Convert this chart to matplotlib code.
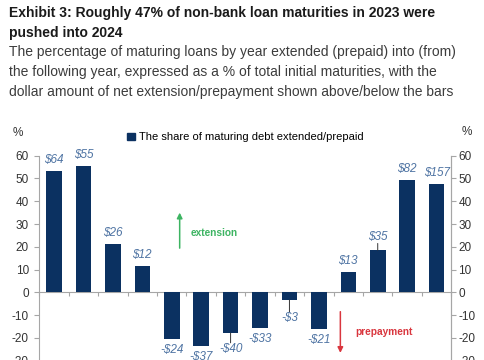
import numpy as np
import matplotlib
matplotlib.use("Agg")
import matplotlib.pyplot as plt
from matplotlib.patches import Patch

# bar values (% of initial maturities) and the $ labels shown above/below
share = [53.5, 55.3, 21.2, 11.4, -20.6, -23.5, -17.9, -15.8, -3.4, -16.2, 8.9, 18.5, 49.5, 47.5]
dollars = ["$64", "$55", "$26", "$12", "-$24", "-$37", "-$40", "-$33", "-$3", "-$21",
           "$13", "$35", "$82", "$157"]
yticks = [-30, -20, -10, 0, 10, 20, 30, 40, 50, 60]

navy = "#0b3161"
lab_blue = "#4f74a3"
green = "#3db462"
red = "#d9363e"
grey = "#a6a6a6"

plt.rcParams['font.family'] = ["Liberation Sans", "DejaVu Sans"]
plt.rcParams['axes.unicode_minus'] = False

fig = plt.figure(figsize=(4.85, 3.6), dpi=100)

# title and subtitle
fig.text(9/485, 1 - 13/360, "Exhibit 3: Roughly 47% of non-bank loan maturities in 2023 were",
         fontsize=10, fontweight='bold', color="#1a1a1a", va='center')
fig.text(9/485, 1 - 33/360, "pushed into 2024",
         fontsize=10, fontweight='bold', color="#1a1a1a", va='center')
sub = ["The percentage of maturing loans by year extended (prepaid) into (from)",
       "the following year, expressed as a % of total initial maturities, with the",
       "dollar amount of net extension/prepayment shown above/below the bars"]
for i, s in enumerate(sub):
    fig.text(9/485, 1 - (52 + 20*i)/360, s, fontsize=10, color="#3c3c3c", va='center')

# axes (bottom runs off the picture like the reference crop)
ax = fig.add_axes([39.3/485, -0.065, 412/485, 0.6325])
x = np.arange(len(share))
ax.bar(x, share, width=0.53, color=navy, zorder=3,
       label="The share of maturing debt extended/prepaid")
ax.set_xlim(-0.5, len(share) - 0.5)
ax.set_ylim(-40, 60)

# zero line with category ticks
ax.spines['top'].set_visible(False)
ax.spines['bottom'].set_position(('data', 0))
for sp in ['bottom', 'left', 'right']:
    ax.spines[sp].set_color(grey)
ax.set_xticks(np.arange(-0.5, len(share) + 0.5, 1.0))
ax.set_xticklabels([])
ax.tick_params(axis='x', direction='out', length=3, color=grey)

ax.set_yticks(yticks)
ax.tick_params(axis='y', direction='out', length=3.5, color=grey, labelsize=8.5,
               labelcolor="#333333", pad=4)
ax2 = ax.twinx()
ax2.set_ylim(ax.get_ylim())
ax2.set_yticks(yticks)
for sp in ['top', 'bottom', 'left']:
    ax2.spines[sp].set_visible(False)
ax2.spines['right'].set_color(grey)
ax2.tick_params(axis='y', direction='out', length=3.5, color=grey, labelsize=8.5,
                labelcolor="#333333", pad=1.5)

# dollar labels
special = {"-$40": 16, "-$3": 18, "$35": 13}
for xi, v, d in zip(x, share, dollars):
    off = special.get(d, 11) * 72 / 100
    sign = 1 if v > 0 else -1
    ax.annotate(d, (xi, v), xytext=(0, sign*off), textcoords='offset points',
                ha='center', va='center', fontsize=8.5, style='italic',
                color=lab_blue, zorder=4)
    if d in special:
        ax.annotate("", (xi, v), xytext=(0, sign*(off - 4.5)), textcoords='offset points',
                    arrowprops=dict(arrowstyle='-', color="#333333", lw=0.7,
                                    shrinkA=0, shrinkB=0))

# extension / prepayment arrows
ax.annotate("", xy=(4.27, 35), xytext=(4.27, 19.4),
            arrowprops=dict(arrowstyle='-|>', color=green, lw=1.1, mutation_scale=8,
                            shrinkA=0, shrinkB=0))
ax.text(4.64, 25.9, "extension", color=green, fontsize=7.3, fontweight='bold', va='center')
ax.annotate("", xy=(9.73, -26.6), xytext=(9.73, -8.5),
            arrowprops=dict(arrowstyle='-|>', color=red, lw=1.1, mutation_scale=8,
                            shrinkA=0, shrinkB=0))
ax.text(10.23, -17.3, "prepayment", color=red, fontsize=7.3, fontweight='bold', va='center')

# % units and legend
fig.text(18/485, 1 - 133/360, "%", fontsize=8.5, ha='center', va='center', color="#333333")
fig.text(467/485, 1 - 132/360, "%", fontsize=8.5, ha='center', va='center', color="#333333")
ax.legend(handles=[Patch(color=navy, label="The share of maturing debt extended/prepaid")],
          loc='center left', bbox_to_anchor=(127/485, 1 - 137.3/360),
          bbox_transform=fig.transFigure, frameon=False, fontsize=8,
          handlelength=0.7, handleheight=0.7, handletextpad=0.4,
          borderpad=0, borderaxespad=0)

fig.savefig("out.png", dpi=100)
